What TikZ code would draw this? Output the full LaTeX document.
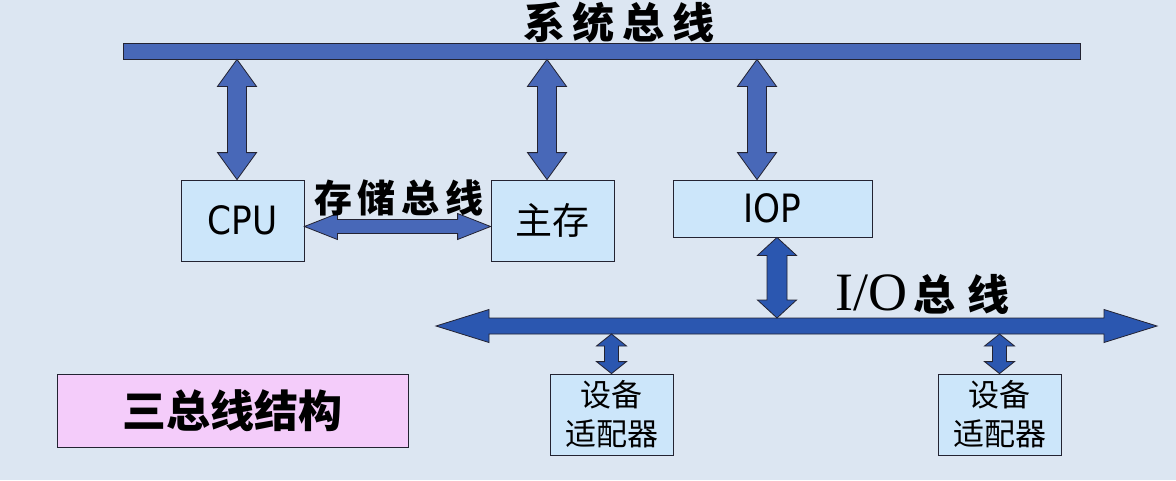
\documentclass[tikz,border=0pt]{standalone}
\usepackage{fontspec}
\setmainfont{DejaVu Sans}[FakeStretch=0.88]
\newfontfamily\cjk{Noto Sans CJK SC}
\newfontfamily\ioserif{Liberation Serif}
\usetikzlibrary{calc}
\definecolor{slideBg}{RGB}{220, 230, 242}
\definecolor{sysBlue}{RGB}{72, 104, 184}
\definecolor{ioBlue}{RGB}{43, 87, 176}
\definecolor{unitFill}{RGB}{204, 230, 250}
\definecolor{titleFill}{RGB}{244, 204, 250}
\definecolor{edgeInk}{RGB}{35, 35, 50}

% vertical block arrow, tips on #1 (y) and #2 (x and y)
\newcommand{\vbusarrow}[6]{%
  \draw[#6] let \p1=(#1), \p2=(#2) in
    (\x2,\y1) -- ({\x2+#4pt},{\y1-#5pt}) -- ({\x2+#3pt},{\y1-#5pt})
    -- ({\x2+#3pt},{\y2+#5pt}) -- ({\x2+#4pt},{\y2+#5pt}) -- (\x2,\y2)
    -- ({\x2-#4pt},{\y2+#5pt}) -- ({\x2-#3pt},{\y2+#5pt})
    -- ({\x2-#3pt},{\y1-#5pt}) -- ({\x2-#4pt},{\y1-#5pt}) -- cycle;}
% horizontal block arrow, tips on #1 (x and y) and #2 (x)
\newcommand{\hbusarrow}[6]{%
  \draw[#6] let \p1=(#1), \p2=(#2) in
    (\x1,\y1) -- ({\x1+#5pt},{\y1+#4pt}) -- ({\x1+#5pt},{\y1+#3pt})
    -- ({\x2-#5pt},{\y1+#3pt}) -- ({\x2-#5pt},{\y1+#4pt}) -- (\x2,\y1)
    -- ({\x2-#5pt},{\y1-#4pt}) -- ({\x2-#5pt},{\y1-#3pt})
    -- ({\x1+#5pt},{\y1-#3pt}) -- ({\x1+#5pt},{\y1-#4pt}) -- cycle;}

\begin{document}
\begin{tikzpicture}[x=1pt, y=-1pt,
    unit/.style={draw=edgeInk, fill=unitFill, line width=0.8pt, inner sep=0pt},
    sysarrow/.style={draw=edgeInk, fill=sysBlue, line width=0.8pt},
    ioarrow/.style={draw=edgeInk, fill=ioBlue, line width=0.8pt},
    buslabel/.style={font=\cjk\bfseries\fontsize{42}{44}\selectfont, inner sep=0pt}]
  \fill[slideBg] (0,0) rectangle (1176,480);

  % system bus
  \node[draw=edgeInk, fill=sysBlue, line width=0.8pt, minimum width=957, minimum height=16, inner sep=0pt] (sysbus) at (601.5,51) {};
  \node[buslabel] (syslabel) at (619,22) {系\hspace{8pt}统\hspace{8pt}总\hspace{8pt}线};

  \node[unit, minimum width=123, minimum height=81, font=\fontsize{39}{42}\selectfont] (cpu) at (242.5,220.5) {CPU};
  \node[unit, minimum width=123, minimum height=81, font=\cjk\fontsize{37}{40}\selectfont] (mainmem) at (552.5,220.5) {主存};
  \node[unit, minimum width=199, minimum height=57, font=\fontsize{39}{42}\selectfont] (iop) at (772.5,208.5) {IOP};

  \vbusarrow{sysbus.south}{[xshift=-5.5pt]cpu.north}{9.5}{19.5}{27}{sysarrow}
  \vbusarrow{sysbus.south}{[xshift=-5.5pt]mainmem.north}{9.5}{19.5}{27}{sysarrow}
  \vbusarrow{sysbus.south}{[xshift=-15.5pt]iop.north}{9.5}{19.5}{27}{sysarrow}

  % memory bus
  \hbusarrow{[yshift=-6pt]cpu.east}{mainmem.west}{7}{13}{33}{sysarrow}
  \node[buslabel, font=\cjk\bfseries\fontsize{38}{40}\selectfont] (memlabel) at (399,198) {存\hspace{6pt}储\hspace{6pt}总\hspace{6pt}线};

  % I/O bus
  \coordinate (ioLeft) at (436,326);
  \coordinate (ioRight) at (1157,326);
  \hbusarrow{ioLeft}{ioRight}{8}{16.5}{53}{ioarrow}
  \node[anchor=west, inner sep=0pt] (iolabel) at (835,294)
    {{\ioserif\fontsize{54}{54}\selectfont I/O}\hspace{6pt}{\cjk\bfseries\fontsize{42}{44}\selectfont 总\hspace{12pt}线}};
  \coordinate (ioTop) at (777,318);
  \coordinate (ioBottom) at (777,334);
  \vbusarrow{iop.south}{ioTop}{10}{19.5}{18}{ioarrow}

  \node[unit, minimum width=123, minimum height=81, align=center, font=\cjk\fontsize{31}{39}\selectfont] (adapterA) at (611.5,414.5) {设备\\适配器};
  \node[unit, minimum width=123, minimum height=81, align=center, font=\cjk\fontsize{31}{39}\selectfont] (adapterB) at (999.5,414.5) {设备\\适配器};
  \vbusarrow{ioBottom}{adapterA.north}{7}{15}{12}{ioarrow}
  \vbusarrow{ioBottom}{adapterB.north}{7}{15}{12}{ioarrow}

  \node[draw=edgeInk, fill=titleFill, line width=0.8pt, minimum width=351, minimum height=73, inner sep=0pt,
        font=\cjk\bfseries\fontsize{44}{48}\selectfont] (title) at (232.5,410.5) {三总线结构};
\end{tikzpicture}
\end{document}
